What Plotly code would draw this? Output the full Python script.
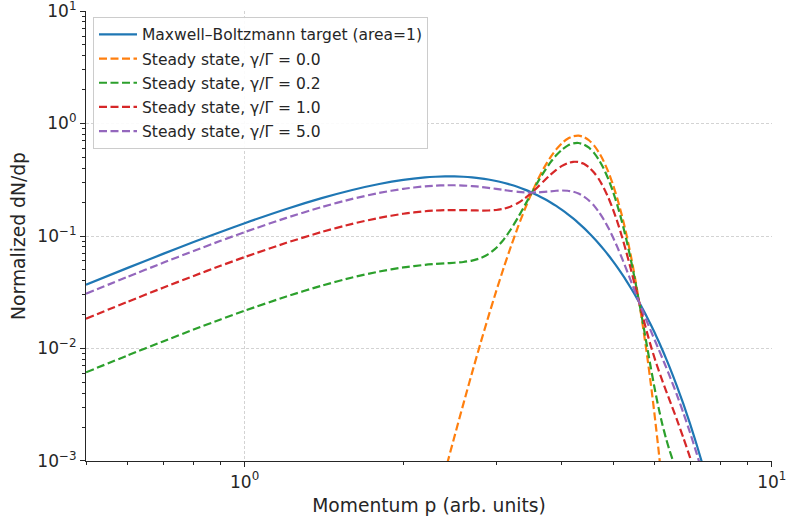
import plotly.graph_objects as go

# Momentum grid (arb. units)
p = [0.5, 0.6, 0.7, 0.8, 0.9, 1.0, 1.2, 1.4, 1.6, 1.8, 2.0, 2.2, 2.3, 2.4, 2.5, 2.6, 2.7,
     2.8, 2.9, 3.0, 3.1, 3.2, 3.3, 3.4, 3.5, 3.6, 3.7, 3.8, 3.9, 4.0, 4.1, 4.2, 4.3,
     4.4, 4.5, 4.6, 4.7, 4.8, 4.9, 5.0, 5.1, 5.2, 5.3, 5.4, 5.5, 5.6, 5.7, 5.8, 5.9,
     6.0, 6.1, 6.2, 6.3, 6.4, 6.6, 6.8, 7.0, 7.2, 7.4]

mb_target = [0.03682, 0.05207, 0.06934, 0.08833, 0.10867, 0.1300, 0.17395, 0.2171, 0.2566,
             0.2899, 0.3154, 0.3317, 0.33638, 0.3387, 0.33868, 0.3365, 0.33215, 0.3259,
             0.31795, 0.3084, 0.29741, 0.2854, 0.27231, 0.2585, 0.24419, 0.2295, 0.21468,
             0.1998, 0.18515, 0.1707, 0.15671, 0.1432, 0.13027, 0.1180, 0.10641, 0.09556,
             0.08545, 0.07604, 0.06740, 0.05951, 0.05236, 0.04581, 0.03997, 0.03470,
             0.03001, 0.02587, 0.02219, 0.01897, 0.01615, 0.01370, 0.01158, 0.009745,
             0.008167, 0.006824, 0.004705, 0.003195, 0.002137, 0.001408, 0.000914]

ss_00 = [None, None, None, None, None, None, None, None, None, None, None, None,
         0.00038, 0.000805, 0.001641, 0.003218, 0.006067, 0.011003, 0.019193, 0.032197,
         0.051962, 0.080661, 0.12039, 0.17290, 0.23878, 0.31725, 0.40534, 0.49838,
         0.58897, 0.66972, 0.73222, 0.77021, 0.77939, 0.75832, 0.71001, 0.63904, 0.55335,
         0.46088, 0.36935, 0.28445, 0.21086, 0.15031, 0.10306, 0.067961, 0.043112,
         0.026303, 0.015434, 0.0087105, 0.0047293, 0.0024698, 0.0012406, 0.00059912,
         0.0002784, 0.0001244, None, None, None, None, None]

ss_02 = [0.006137, 0.008678, 0.011557, 0.014722, 0.018112, 0.021667, 0.028992, 0.036183,
         0.042767, 0.048317, 0.052567, 0.055425, 0.05638, 0.057121, 0.057815, 0.058765,
         0.060414, 0.063486, 0.068986, 0.078231, 0.09287, 0.114785, 0.14571, 0.187166,
         0.239681, 0.302625, 0.373563, 0.448617, 0.521666, 0.58655, 0.636301, 0.665709,
         0.671204, 0.6516, 0.60941, 0.54846, 0.475367, 0.39674, 0.319025, 0.24696,
         0.184444, 0.132893, 0.092545, 0.062417, 0.040929, 0.026231, 0.01656, 0.010421,
         0.006633, 0.004341, 0.002964, 0.002123, 0.001593, 0.001241, 0.000802, 0.000533,
         None, None, None]

ss_10 = [0.01841, 0.026035, 0.03467, 0.044165, 0.054335, 0.065, 0.086975, 0.10855, 0.1283,
         0.14495, 0.1577, 0.165935, 0.16838, 0.169753, 0.170161, 0.169859, 0.169109,
         0.168452, 0.168572, 0.170299, 0.174686, 0.183031, 0.19635, 0.2157, 0.241485,
         0.273375, 0.31001, 0.34909, 0.38706, 0.42021, 0.444465, 0.456705, 0.45483,
         0.43816, 0.40821, 0.3673, 0.3194, 0.26846, 0.218375, 0.17198, 0.13161, 0.09806,
         0.071515, 0.051331, 0.036561, 0.026087, 0.018812, 0.01384, 0.01044, 0.008085,
         0.00641, 0.005172, 0.004223, 0.003474, 0.002364, 0.001598, 0.001069, 0.000704,
         None]

ss_50 = [0.030683, 0.043392, 0.057783, 0.073608, 0.090558, 0.108333, 0.144958, 0.180917,
         0.213833, 0.241583, 0.262833, 0.276445, 0.28038, 0.282384, 0.282507, 0.280953,
         0.277803, 0.273417, 0.268157, 0.262366, 0.256502, 0.251277, 0.24699, 0.244234,
         0.243289, 0.244125, 0.246457, 0.249563, 0.252454, 0.25387, 0.252629, 0.247701,
         0.238456, 0.22472, 0.20701, 0.18614, 0.163433, 0.14018, 0.117725, 0.097,
         0.078776, 0.063227, 0.050485, 0.040244, 0.032193, 0.025942, 0.021064, 0.01726,
         0.014246, 0.011829, 0.009857, 0.008221, 0.006852, 0.005708, 0.003925, 0.002663,
         0.001781, 0.001173, 0.000762]

series = [
    ("Maxwell\u2013Boltzmann target (area=1)", mb_target, "#1f77b4", "solid"),
    ("Steady state, \u03b3/\u0393 = 0.0", ss_00, "#ff7f0e", "8px,3.5px"),
    ("Steady state, \u03b3/\u0393 = 0.2", ss_02, "#2ca02c", "8px,3.5px"),
    ("Steady state, \u03b3/\u0393 = 1.0", ss_10, "#d62728", "8px,3.5px"),
    ("Steady state, \u03b3/\u0393 = 5.0", ss_50, "#9467bd", "8px,3.5px"),
]

x_tickvals = [1, 10]
x_ticktext = ["10<sup>0</sup>", "10<sup>1</sup>"]
y_tickvals = [0.001, 0.01, 0.1, 1, 10]
y_ticktext = ["10<sup>\u22123</sup>", "10<sup>\u22122</sup>", "10<sup>\u22121</sup>",
              "10<sup>0</sup>", "10<sup>1</sup>"]

x_minor = [0.5, 0.6, 0.7, 0.8, 0.9, 2, 3, 4, 5, 6, 7, 8, 9]
y_minor = [m * 10.0 ** e for e in range(-3, 1) for m in range(2, 10)]

fig = go.Figure()
for i, (name, vals, color, dash) in enumerate(series):
    fig.add_trace(go.Scatter(
        x=p, y=vals, mode="lines", name=name, legendgroup=f"g{i}",
        line=dict(color=color, width=2.2, dash=dash, shape="spline", smoothing=0.6),
        connectgaps=False,
    ))

font_family = "DejaVu Sans"
text_color = "#262626"
grid_color = "#d3d3d3"

fig.update_layout(
    width=791, height=521,
    margin=dict(l=86, r=19, t=11, b=60),
    paper_bgcolor="white", plot_bgcolor="white",
    font=dict(family=font_family, color=text_color),
    showlegend=True,
    legend=dict(
        x=0.0102, y=0.987, xanchor="left", yanchor="top",
        bgcolor="rgba(255,255,255,0.9)", bordercolor="#cccccc", borderwidth=1,
        font=dict(size=15.5, family=font_family, color=text_color),
        tracegroupgap=1, itemwidth=38,
    ),
    xaxis=dict(
        type="log", range=[-0.30103, 1.0005], automargin=False,
        tickmode="array", tickvals=x_tickvals, ticktext=x_ticktext,
        tickfont=dict(size=17, color=text_color), ticklabeloverflow="allow",
        ticks="outside", ticklen=5, tickwidth=1, tickcolor="#262626",
        showline=True, linecolor="#262626", linewidth=1.2, mirror=False,
        showgrid=True, gridcolor=grid_color, griddash="3px,2px", gridwidth=0.8,
        minor=dict(tickmode="array", tickvals=x_minor, ticks="outside", ticklen=3,
                   tickcolor="#262626", showgrid=False),
        zeroline=False,
        title=dict(text="Momentum p (arb. units)", font=dict(size=18.7, color=text_color),
                   standoff=8),
    ),
    yaxis=dict(
        type="log", range=[-3.0005, 1.0005], automargin=False,
        tickmode="array", tickvals=y_tickvals, ticktext=y_ticktext,
        tickfont=dict(size=17, color=text_color), ticklabeloverflow="allow",
        ticks="outside", ticklen=5, tickwidth=1, tickcolor="#262626",
        showline=True, linecolor="#262626", linewidth=1.2, mirror=False,
        showgrid=True, gridcolor=grid_color, griddash="3px,2px", gridwidth=0.8,
        minor=dict(tickmode="array", tickvals=y_minor, ticks="outside", ticklen=3,
                   tickcolor="#262626", showgrid=False),
        zeroline=False,
        title=dict(text="Normalized dN/dp", font=dict(size=18.7, color=text_color),
                   standoff=6),
    ),
)

fig.write_html(
    "out.html",
    config={"displayModeBar": False},
    post_script="document.body.style.margin='0';document.body.style.padding='0';"
                "document.body.style.overflow='hidden';",
)
